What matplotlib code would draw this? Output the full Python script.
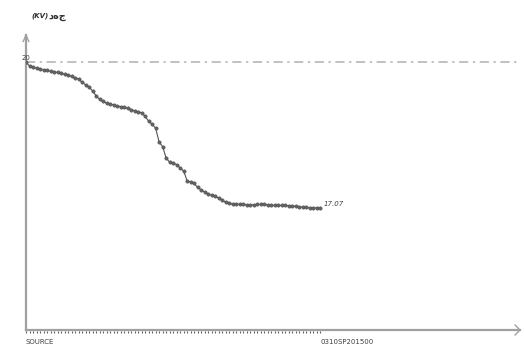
import numpy as np
import matplotlib
matplotlib.use("Agg")
import matplotlib.pyplot as plt

# voltage profile along the feeder, one value per node
voltage = [20.00, 19.93, 19.90, 19.88, 19.86, 19.85, 19.84, 19.82, 19.81, 19.80,
           19.78, 19.76, 19.74, 19.72, 19.69, 19.67, 19.60, 19.55, 19.50, 19.43,
           19.33, 19.26, 19.22, 19.18, 19.16, 19.15, 19.13, 19.11, 19.10, 19.08,
           19.05, 19.03, 19.01, 18.99, 18.92, 18.82, 18.76, 18.68, 18.40, 18.31,
           18.08, 18.00, 17.98, 17.95, 17.88, 17.82, 17.62, 17.60, 17.57, 17.49,
           17.44, 17.40, 17.36, 17.33, 17.31, 17.28, 17.24, 17.19, 17.17, 17.16,
           17.16, 17.15, 17.15, 17.14, 17.14, 17.14, 17.15, 17.15, 17.15, 17.14,
           17.13, 17.13, 17.13, 17.13, 17.13, 17.12, 17.12, 17.11, 17.10, 17.10,
           17.09, 17.08, 17.08, 17.08, 17.07]
nominal = 20
start_name = "SOURCE"
end_name = "0310SP201500"
unit = "(KV)"
# arabic letters written in display order (no shaping in matplotlib)
quantity = "\u062F\u0647\u062C"

x = np.arange(len(voltage))
W, H = 524, 349
fig = plt.figure(figsize=(W / 100, H / 100), dpi=100)
ax = fig.add_axes([26 / W, 19 / H, (520 - 26) / W, (330 - 35) / H])

ax.set_xlim(0, 141)
ax.set_ylim(14.63, 20.55)

axis_col = "#a0a0a0"
for s in ["top", "right"]:
    ax.spines[s].set_visible(False)
for s in ["left", "bottom"]:
    ax.spines[s].set_color(axis_col)
    ax.spines[s].set_linewidth(1.6)

ax.set_xticks([])
ax.set_yticks([])

# node ticks along the bottom
ax.plot(x, np.full(len(x), 14.59), linestyle="none", marker="|", ms=1.6,
        mew=0.8, color="#606060", clip_on=False, zorder=3)

# nominal reference line
ax.axhline(nominal, color="#b0b0b0", lw=1.1, linestyle=(0, (6, 3, 1.5, 3)))

ax.plot(x, voltage, color="#555555", lw=0.8, marker="o", ms=2.4,
        mfc="#666666", mec="#4a4a4a", mew=0.4, zorder=4)

# arrowheads on the axes
ax.plot([-0.8, 0, 0.8], [20.42, 20.55, 20.42], color=axis_col, lw=1.0,
        clip_on=False)
ax.plot([139.6, 141, 139.6], [14.73, 14.63, 14.53], color=axis_col, lw=1.0,
        clip_on=False)

fs = 5
ax.text(-1.2, nominal + 0.03, f"{voltage[0]:g}", fontsize=fs, color="#404040",
        ha="left", va="bottom")
ax.text(x[-1] + 0.9, voltage[-1] + 0.02, f"{voltage[-1]:.2f}", fontsize=fs,
        color="#404040", ha="left", va="bottom", style="italic")
ax.text(0, 14.45, start_name, fontsize=fs, color="#404040", ha="left", va="top")
ax.text(x[-1], 14.45, end_name, fontsize=fs, color="#404040", ha="left",
        va="top")

# axis title: unit then the arabic word
fig.text(31 / W, 1 - 16 / H, unit, fontsize=5, color="#303030",
         fontweight="bold", style="italic", ha="left", va="center")
fig.text(48 / W, 1 - 16 / H, quantity, fontsize=7, color="#303030",
         fontweight="bold", ha="left", va="center", family=["DejaVu Sans"])

fig.savefig("out.png", dpi=100)
